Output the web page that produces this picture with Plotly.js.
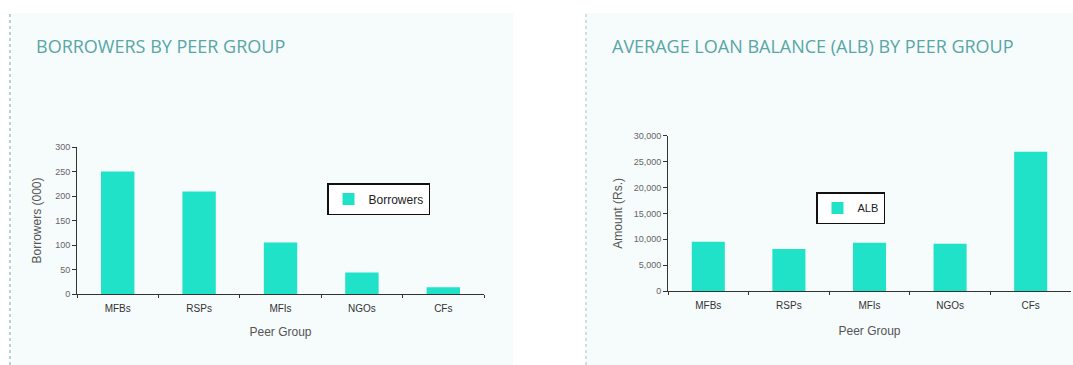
<!DOCTYPE html>
<html>
<head>
<meta charset="utf-8">
<script src="https://cdn.plot.ly/plotly-3.0.1.min.js"></script>
<style>html,body{margin:0;padding:0;background:#fff;}#chart{width:1073px;height:365px;}</style>
</head>
<body>
<div id="chart"></div>
<script>
const categories = ["MFBs", "RSPs", "MFIs", "NGOs", "CFs"];
const borrowers = [250, 209, 105, 44, 14];
const alb = [9500, 8100, 9300, 9150, 26900];
const leftTitle = "BORROWERS BY PEER GROUP";
const rightTitle = "AVERAGE LOAN BALANCE (ALB) BY PEER GROUP";

const W = 1073, H = 365;
const px = x => x / W;
const py = y => (H - y) / H;

const barColor = "#20e2c9";
const tickFont = {family: "Liberation Sans, Arial, sans-serif", size: 10, color: "#333"};
const axisTitleFont = {family: "Liberation Sans, Arial, sans-serif", size: 12, color: "#555"};

const traces = [
  {type: "bar", x: categories, y: borrowers, name: "Borrowers", marker: {color: barColor},
   xaxis: "x", yaxis: "y", legend: "legend", hoverinfo: "x+y"},
  {type: "bar", x: categories, y: alb, name: "ALB", marker: {color: barColor},
   xaxis: "x2", yaxis: "y2", legend: "legend2", hoverinfo: "x+y"}
];

const xCommon = {
  type: "category", range: [-0.5, 4.5], showline: true, linecolor: "#333", linewidth: 1,
  ticks: "outside", tickson: "boundaries", ticklen: 3, tickcolor: "#333",
  ticklabelstandoff: 5,
  tickfont: tickFont, showgrid: false, zeroline: false, fixedrange: true
};
const yCommon = {
  showline: true, linecolor: "#333", linewidth: 1, ticks: "outside", ticklen: 4,
  tickcolor: "#333", tickfont: {family: tickFont.family, size: 9, color: "#666"},
  showgrid: false, zeroline: false, fixedrange: true
};

const legendCommon = {
  xanchor: "left", yanchor: "top", bgcolor: "#ffffff", bordercolor: "#111", borderwidth: 1.5,
  itemwidth: 30, tracegroupgap: 0
};

const layout = {
  width: W, height: H,
  margin: {l: 0, r: 0, t: 0, b: 0},
  paper_bgcolor: "#ffffff", plot_bgcolor: "rgba(0,0,0,0)",
  bargap: 0.59,
  showlegend: true,
  xaxis: Object.assign({}, xCommon, {domain: [px(77), px(484)], anchor: "y",
    title: {text: "Peer Group", font: axisTitleFont, standoff: 14}}),
  yaxis: Object.assign({}, yCommon, {domain: [py(294), py(147)], anchor: "x",
    range: [0, 300], dtick: 50,
    title: {text: "Borrowers (000)", font: axisTitleFont, standoff: 10}}),
  xaxis2: Object.assign({}, xCommon, {domain: [px(668), px(1071)], anchor: "y2",
    title: {text: "Peer Group", font: axisTitleFont, standoff: 16}}),
  yaxis2: Object.assign({}, yCommon, {domain: [py(291), py(135.7)], anchor: "x2",
    range: [0, 30000], dtick: 5000, tickformat: ",d",
    title: {text: "Amount (Rs.)", font: axisTitleFont, standoff: 8}}),
  legend: Object.assign({}, legendCommon, {x: px(327), y: py(183),
    font: {family: "Liberation Sans, Arial, sans-serif", size: 12, color: "#222"}}),
  legend2: Object.assign({}, legendCommon, {x: px(816), y: py(192),
    font: {family: "Liberation Sans, Arial, sans-serif", size: 11, color: "#222"}}),
  shapes: [
    {type: "rect", xref: "paper", yref: "paper", x0: px(12), x1: px(513), y0: 0, y1: py(13),
     fillcolor: "#f6fbfb", line: {width: 0}, layer: "below"},
    {type: "rect", xref: "paper", yref: "paper", x0: px(586), x1: 1, y0: 0, y1: py(13),
     fillcolor: "#f6fbfb", line: {width: 0}, layer: "below"},
    {type: "line", xref: "paper", yref: "paper", x0: px(10), x1: px(10), y0: 0, y1: py(14),
     line: {color: "#6aa8b0", width: 1, dash: "dot"}},
    {type: "line", xref: "paper", yref: "paper", x0: px(586), x1: px(586), y0: 0, y1: py(14),
     line: {color: "#9cc4c8", width: 1, dash: "dot"}}
  ],
  annotations: [
    {text: leftTitle, xref: "paper", yref: "paper", x: px(34), y: py(46), xanchor: "left", yanchor: "middle",
     showarrow: false, font: {family: "Open Sans, sans-serif", size: 18, color: "#58a6a6"}},
    {text: rightTitle, xref: "paper", yref: "paper", x: px(610), y: py(46), xanchor: "left", yanchor: "middle",
     showarrow: false, font: {family: "Open Sans, sans-serif", size: 18, color: "#58a6a6"}}
  ]
};

Plotly.newPlot("chart", traces, layout, {displayModeBar: false, staticPlot: true});
</script>
</body>
</html>
